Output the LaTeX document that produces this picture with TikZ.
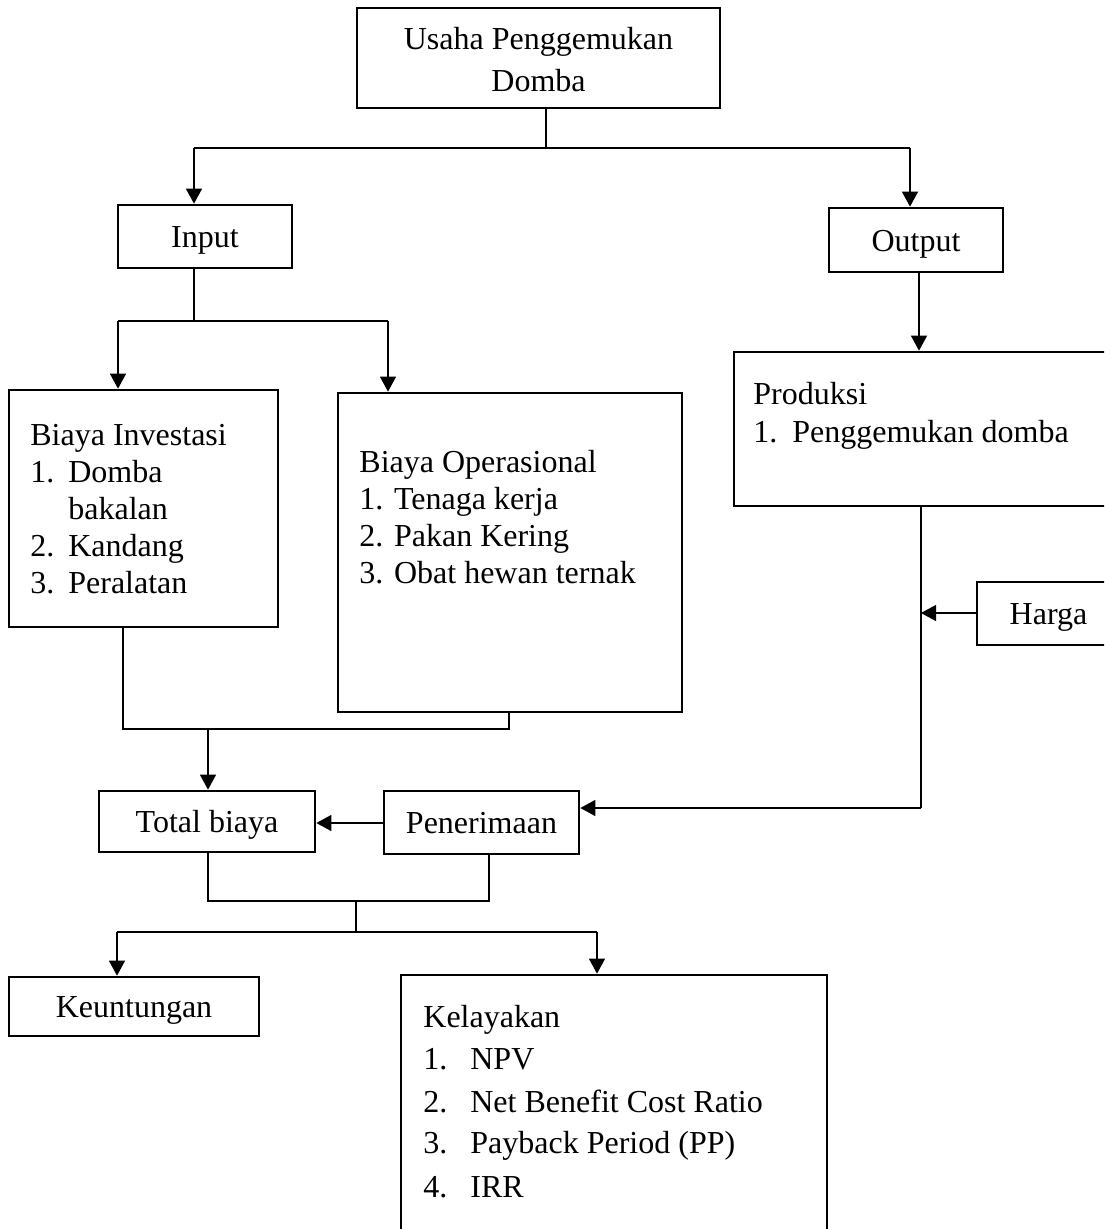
\documentclass[tikz,border=0pt]{standalone}
\usepackage{fontspec}
\setmainfont{Liberation Serif}
\usetikzlibrary{arrows.meta}
\begin{document}
\begin{tikzpicture}[x=0.5pt,y=-0.5pt,
  box/.style={draw, line width=1.35pt, rectangle, inner sep=0pt, text height=12pt, text depth=0.6pt, font=\fontsize{16}{18.5}\selectfont},
  txt/.style={inner sep=0pt, anchor=base west, font=\fontsize{16}{18.5}\selectfont},
  ctxt/.style={inner sep=0pt, anchor=base, font=\fontsize{16}{18.5}\selectfont},
  conn/.style={line width=0.6pt},
  arr/.style={line width=0.6pt, -{Triangle[length=7.5pt,width=8pt]}}]
\clip (0,0) rectangle (1104,1229);
\fill[white] (0,0) rectangle (1104,1229);

% boxes
\node[box, minimum width=181.5pt, minimum height=50pt] (top) at (538.5,58) {};
\node[ctxt] (top1) at (538.5,50) {Usaha Penggemukan};
\node[ctxt] (top2) at (538.5,92) {Domba};

\node[box, minimum width=87pt, minimum height=31.5pt] (inp) at (205,236.5) {Input};
\node[box, minimum width=87pt, minimum height=32pt] (out) at (916,240) {Output};

\node[box, minimum width=134.5pt, minimum height=118.5pt] (inv) at (143.5,508.5) {};
\node[txt] (inv1) at (30,445) {Biaya Investasi};
\node[txt] (inv2) at (30,482) {\makebox[19pt][l]{1.}Domba};
\node[txt] (inv3) at (68,519) {bakalan};
\node[txt] (inv4) at (30,556) {\makebox[19pt][l]{2.}Kandang};
\node[txt] (inv5) at (30,593) {\makebox[19pt][l]{3.}Peralatan};

\node[box, minimum width=172pt, minimum height=159.5pt] (op) at (510,552.5) {};
\node[txt] (op1) at (359,472) {Biaya Operasional};
\node[txt] (op2) at (359,509) {1. Tenaga kerja};
\node[txt] (op3) at (359,546) {2. Pakan Kering};
\node[txt] (op4) at (359,583) {3. Obat hewan ternak};

\node[box, minimum width=193pt, minimum height=77pt] (prod) at (927,429) {};
\node[txt] (prod1) at (753,405) {Produksi};
\node[txt] (prod2) at (753,442) {\makebox[19.5pt][l]{1.}Penggemukan domba};

\node[box, minimum width=71.5pt, minimum height=31.5pt] (harga) at (1048.5,613.5) {Harga};

\node[box, minimum width=108pt, minimum height=30.5pt] (tb) at (207,821.5) {Total biaya};
\node[box, minimum width=97.5pt, minimum height=31.5pt] (pen) at (481.5,822.5) {Penerimaan};

\node[box, minimum width=125pt, minimum height=29.5pt] (keu) at (134,1006.5) {Keuntungan};

\node[box, minimum width=213pt, minimum height=142.5pt] (kel) at (614,1117.5) {};
\node[txt] (kel1) at (423,1027) {Kelayakan};
\node[txt] (kel2) at (423,1069) {\makebox[23.5pt][l]{1.}NPV};
\node[txt] (kel3) at (423,1112) {\makebox[23.5pt][l]{2.}Net Benefit Cost Ratio};
\node[txt] (kel4) at (423,1153) {\makebox[23.5pt][l]{3.}Payback Period (PP)};
\node[txt] (kel5) at (423,1197) {\makebox[23.5pt][l]{4.}IRR};

% junction coordinates
\coordinate (j1) at (546,148);
\coordinate (j1l) at (194,148);
\coordinate (j1r) at (910,148);
\coordinate (j2) at (194,321);
\coordinate (j2l) at (118,321);
\coordinate (j2r) at (388,321);
\coordinate (j3l) at (123,729);
\coordinate (j3r) at (509,729);
\coordinate (j3) at (208,729);
\coordinate (j4) at (921,808);
\coordinate (j5) at (921,613);
\coordinate (j6l) at (208,901);
\coordinate (j6r) at (489,901);
\coordinate (j6) at (356,901);
\coordinate (j7) at (356,932);
\coordinate (j7l) at (117,932);
\coordinate (j7r) at (597,932);

% connectors
\draw[conn] (top.south -| j1) -- (j1);
\draw[conn] (j1l) -- (j1r);
\draw[arr] (j1l) -- (j1l |- inp.north);
\draw[arr] (j1r) -- (j1r |- out.north);

\draw[conn] (inp.south -| j2) -- (j2);
\draw[conn] (j2l) -- (j2r);
\draw[arr] (j2l) -- (j2l |- inv.north);
\draw[arr] (j2r) -- (j2r |- op.north);

\draw[arr] (out.south -| 919,0) -- (prod.north -| 919,0);

\draw[conn] (inv.south -| j3l) -- (j3l) -- (j3r) -- (op.south -| j3r);
\draw[arr] (j3) -- (j3 |- tb.north);

\draw[conn] (prod.south -| j4) -- (j4);
\draw[arr] (j4) -- (j4 -| pen.east);
\draw[arr] (harga.west |- j5) -- (j5);
\draw[arr] (pen.west |- 0,823) -- (tb.east |- 0,823);

\draw[conn] (tb.south -| j6l) -- (j6l) -- (j6r) -- (pen.south -| j6r);
\draw[conn] (j6) -- (j7);
\draw[conn] (j7l) -- (j7r);
\draw[arr] (j7l) -- (j7l |- keu.north);
\draw[arr] (j7r) -- (j7r |- kel.north);
\end{tikzpicture}
\end{document}
